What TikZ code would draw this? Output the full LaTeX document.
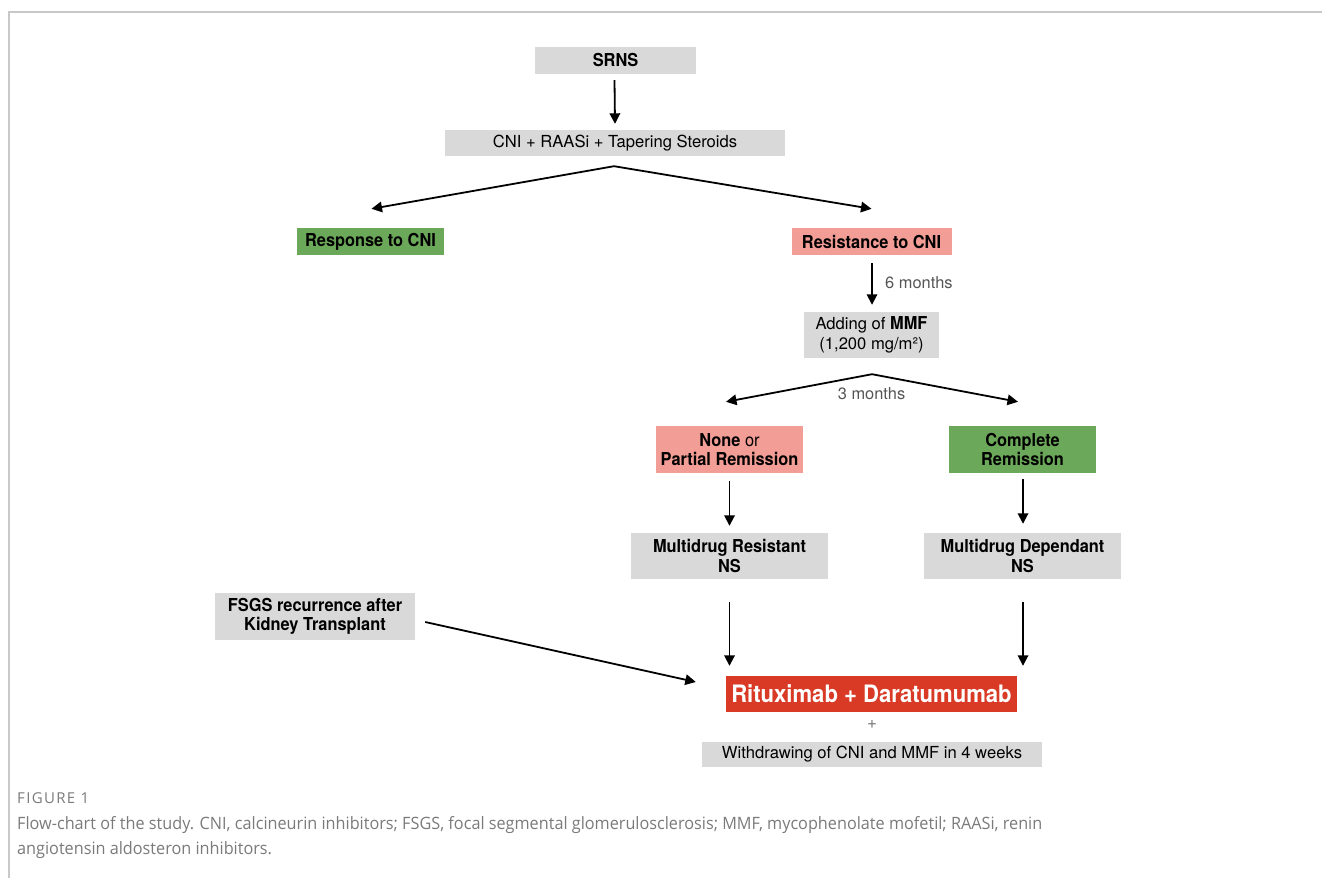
\documentclass[tikz,border=0pt]{standalone}
\usepackage{fontspec}
\setmainfont{TeX Gyre Heros}
\newfontfamily\boldnarrow{TeX Gyre Heros}[FakeStretch=0.92]
\newfontfamily\capfont{Open Sans}[FakeStretch=0.955]
\newfontfamily\figfont{Open Sans}[LetterSpace=9]
\usetikzlibrary{arrows.meta,calc}
\definecolor{boxgray}{HTML}{D9D9D9}
\definecolor{boxgreen}{HTML}{6CA85A}
\definecolor{boxsalmon}{HTML}{F29D95}
\definecolor{boxred}{HTML}{D83A26}
\definecolor{framegray}{HTML}{C8C8C8}
\definecolor{labgray}{HTML}{555555}
\definecolor{capgray}{HTML}{7A7A7A}
\tikzset{
  base/.style={inner sep=0pt, align=center, text=black, font=\fontsize{16.6}{19.5}\selectfont},
  bfont/.style={font=\boldnarrow\fontsize{17.8}{19.5}\selectfont\bfseries},
  graybox/.style={base, fill=boxgray},
  greenbox/.style={base, fill=boxgreen, bfont},
  salmonbox/.style={base, fill=boxsalmon, bfont},
  boldgray/.style={graybox, bfont},
  redbox/.style={base, fill=boxred, text=white, font=\boldnarrow\fontsize{24}{26}\selectfont\bfseries},
  arr/.style={line width=1.8pt, -{Triangle[length=10.5pt,width=10.5pt]}},
  lab/.style={inner sep=0pt, text=labgray, font=\fontsize{16.4}{19.5}\selectfont},
}
\begin{document}
\begin{tikzpicture}[x=1pt,y=-1pt]
\useasboundingbox (0,0) rectangle (1322,878);
% frame
\draw[framegray, line width=1.5pt] (9,878) -- (9,12) -- (1322,12);

% nodes
\node[boldgray, minimum width=161pt, minimum height=27pt] (srns) at (615.5,60.5) {SRNS};
\node[graybox, minimum width=340pt, minimum height=26pt] (cni) at (615,143) {CNI + RAASi + Tapering Steroids};
\node[greenbox, minimum width=147pt, minimum height=27pt] (resp) at (370.5,241.5) {Response to CNI};
\node[salmonbox, minimum width=160pt, minimum height=27pt] (resist) at (871.5,241.5) {Resistance to CNI};
\node[graybox, minimum width=135pt, minimum height=46pt] (mmf) at (871.5,335) {Adding of {\boldnarrow\fontsize{17.8}{19.5}\selectfont\bfseries MMF}\\(1,200 mg/m²)};
\node[salmonbox, minimum width=147pt, minimum height=47pt] (none) at (729.5,449.5) {None {\fontsize{17.8}{19.5}\selectfont\mdseries or}\\Partial Remission};
\node[greenbox, minimum width=147pt, minimum height=47pt] (complete) at (1022.5,449.5) {Complete\\Remission};
\node[boldgray, minimum width=197pt, minimum height=46pt] (mres) at (729.5,556) {Multidrug Resistant\\NS};
\node[boldgray, minimum width=197pt, minimum height=46pt] (mdep) at (1022.5,556) {Multidrug Dependant\\NS};
\node[boldgray, minimum width=200pt, minimum height=47pt] (fsgs) at (315,616.5) {FSGS recurrence after\\Kidney Transplant};
\node[redbox, minimum width=291pt, minimum height=36pt] (ritux) at (871.5,694) {Rituximab + Daratumumab};
\node[lab, text=labgray!80, font=\fontsize{17}{18}\selectfont] (plus) at (872,724.5) {+};
\node[graybox, minimum width=340pt, minimum height=25pt] (withdraw) at (872,754.5) {Withdrawing of CNI and MMF in 4 weeks};

% branch points
\coordinate (b1) at ($(cni.south)+(-1,10)$);
\coordinate (b2) at ($(mmf.south)+(0.5,16)$);

% connectors
\draw[arr] ($(srns.south)+(-1,6)$) -- ($(cni.north)+(0,-6)$);
\draw[arr] (b1) -- ($(resp.north)+(1,-19)$);
\draw[arr] (b1) -- ($(resist.north)+(0,-19)$);
\draw[arr] ($(resist.south)+(0.5,8)$) -- ($(mmf.north)+(0.5,-7)$);
\node[lab, anchor=west] (six) at (885,283) {6 months};
\draw[arr] (b2) -- ($(none.north)+(-3.5,-24)$);
\draw[arr] (b2) -- ($(complete.north)+(-4.5,-24)$);
\node[lab] (three) at (871.5,394) {3 months};
\draw[arr] ($(none.south)+(0,8)$) -- ($(mres.north)+(0,-7)$);
\draw[arr] ($(complete.south)+(0.5,6)$) -- ($(mdep.north)+(0.5,-9)$);
\draw[arr] ($(mres.south)+(0,23)$) -- ($(mres.south |- ritux.north)+(0,-10)$);
\draw[arr] ($(mdep.south)+(0.5,23)$) -- ($(mdep.south |- ritux.north)+(0.5,-10)$);
\draw[arr] ($(fsgs.east)+(10,5.5)$) -- ($(ritux.west)+(-30,-12)$);

% caption
\node[anchor=west, inner sep=0pt, text=capgray, font=\figfont\fontsize{15}{16}\selectfont] (fig) at (17,798.5) {FIGURE 1};
\node[anchor=north west, inner sep=0pt, align=left, text=capgray, font=\capfont\fontsize{17}{25}\selectfont] (cap) at (17,816.5) {Flow-chart of the study. CNI, calcineurin inhibitors; FSGS, focal segmental glomerulosclerosis; MMF, mycophenolate mofetil; RAASi, renin\\angiotensin aldosteron inhibitors.};
\end{tikzpicture}
\end{document}
